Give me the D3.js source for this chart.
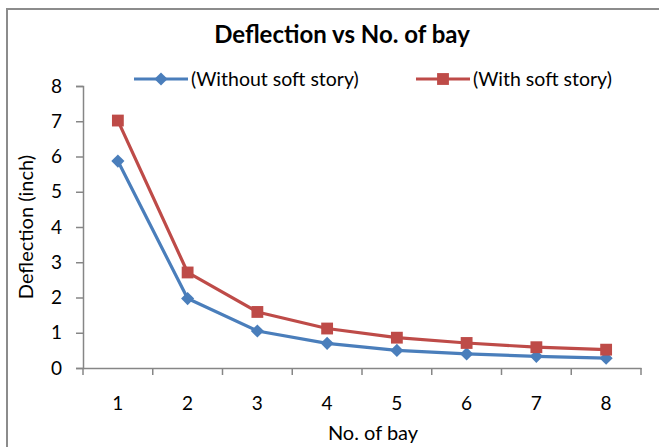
<!DOCTYPE html>
<html>
<head>
<meta charset="utf-8">
<script src="https://cdn.jsdelivr.net/npm/d3@7"></script>
<style>
  html, body { margin: 0; padding: 0; background: #fff; }
  svg { display: block; font-family: Lato, "Open Sans", sans-serif; }
</style>
</head>
<body>
<svg id="chart" width="659" height="447"></svg>
<script>
// Number of bays on the x axis
const bays = ["1", "2", "3", "4", "5", "6", "7", "8"];
// Lateral deflection (inch) for each bay count
const withoutSoftStory = [5.87, 1.97, 1.05, 0.70, 0.50, 0.40, 0.33, 0.28];
const withSoftStory = [7.02, 2.71, 1.59, 1.12, 0.86, 0.71, 0.59, 0.52];
const yTicks = [0, 1, 2, 3, 4, 5, 6, 7, 8];

const seriesList = [
  { name: "(Without soft story)", values: withoutSoftStory, color: "#4a7ebb", marker: "diamond" },
  { name: "(With soft story)", values: withSoftStory, color: "#be4b48", marker: "square" }
];

const svg = d3.select("#chart");
const axisColor = "#868686";
const textColor = "#000";

// Outer chart frame
svg.append("rect")
  .attr("x", 7).attr("y", 9)
  .attr("width", 660).attr("height", 450)
  .attr("fill", "none")
  .attr("stroke", "#8c8c8c")
  .attr("stroke-width", 2);

const plot = { left: 83, right: 641, top: 86, bottom: 368 };

const x = d3.scaleBand().domain(bays).range([plot.left, plot.right]);
const y = d3.scaleLinear().domain([0, 8]).range([plot.bottom, plot.top]);

// Y axis
const yAxis = svg.append("g")
  .attr("transform", `translate(${plot.left},0)`)
  .call(d3.axisLeft(y).tickValues(yTicks).tickSize(7).tickPadding(14).tickFormat(d3.format("d")));
yAxis.select(".domain").attr("stroke", axisColor).attr("stroke-width", 1.5);
yAxis.selectAll(".tick line").attr("stroke", axisColor).attr("stroke-width", 1.5);
yAxis.selectAll(".tick text").attr("fill", textColor).attr("font-size", 19).attr("font-family", "Lato, sans-serif");

// X axis: ticks sit on the band boundaries, labels at band centres
const xAxis = svg.append("g")
  .attr("transform", `translate(0,${plot.bottom})`)
  .call(d3.axisBottom(x).tickSize(0).tickPadding(29));
xAxis.select(".domain").attr("stroke", axisColor).attr("stroke-width", 1.5);
xAxis.selectAll(".tick text").attr("fill", textColor).attr("font-size", 19).attr("font-family", "Lato, sans-serif");
const boundaries = bays.map(b => x(b)).concat([x(bays[bays.length - 1]) + x.bandwidth()]);
xAxis.selectAll(".bnd").data(boundaries).enter().append("line")
  .attr("class", "bnd")
  .attr("x1", d => d).attr("x2", d => d)
  .attr("y1", 0).attr("y2", 7)
  .attr("stroke", axisColor).attr("stroke-width", 1.5);

// Axis titles
svg.append("text")
  .attr("x", 373).attr("y", 440)
  .attr("text-anchor", "middle")
  .attr("font-size", 20).attr("fill", textColor)
  .text("No. of bay");

svg.append("text")
  .attr("transform", `translate(33,${(plot.top + plot.bottom) / 2}) rotate(-90)`)
  .attr("text-anchor", "middle")
  .attr("font-size", 20).attr("fill", textColor)
  .text("Deflection (inch)");

// Chart title
svg.append("text")
  .attr("x", 342).attr("y", 43)
  .attr("text-anchor", "middle")
  .attr("font-size", 24).attr("font-weight", "bold").attr("fill", textColor)
  .text("Deflection vs No. of bay");

const diamond = d3.symbol().type(d3.symbolDiamond2).size(110);
const square = d3.symbol().type(d3.symbolSquare).size(140);
function drawMarker(g, s, cx, cy) {
  g.append("path")
    .attr("d", s.marker === "diamond" ? diamond() : square())
    .attr("transform", `translate(${cx},${cy})`)
    .attr("fill", s.color);
}

// Series lines and markers
const line = d3.line()
  .x((d, i) => x(bays[i]) + x.bandwidth() / 2)
  .y(d => y(d));

seriesList.forEach(s => {
  const g = svg.append("g");
  g.append("path")
    .datum(s.values)
    .attr("d", line)
    .attr("fill", "none")
    .attr("stroke", s.color)
    .attr("stroke-width", 3.2)
    .attr("stroke-linejoin", "round");
  s.values.forEach((v, i) => drawMarker(g, s, x(bays[i]) + x.bandwidth() / 2, y(v)));
});

// Legend
const legendItems = [
  { s: seriesList[0], x0: 134 },
  { s: seriesList[1], x0: 416 }
];
legendItems.forEach(({ s, x0 }) => {
  const g = svg.append("g");
  g.append("line")
    .attr("x1", x0).attr("x2", x0 + 54)
    .attr("y1", 79).attr("y2", 79)
    .attr("stroke", s.color).attr("stroke-width", 3.2);
  drawMarker(g, s, x0 + 27, 79);
  g.append("text")
    .attr("x", x0 + 57).attr("y", 86)
    .attr("font-size", 19.5).attr("fill", textColor)
    .text(s.name);
});
</script>
</body>
</html>
